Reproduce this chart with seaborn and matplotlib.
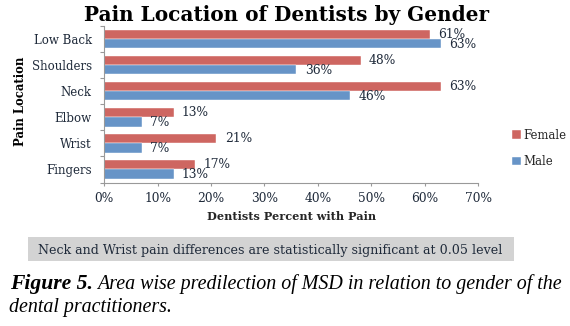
import matplotlib
matplotlib.use("Agg")
import matplotlib.pyplot as plt
import seaborn as sns
import pandas as pd
from matplotlib.ticker import FuncFormatter, FixedLocator, NullFormatter

categories = ["Low Back", "Shoulders", "Neck", "Elbow", "Wrist", "Fingers"]
female = [61, 48, 63, 13, 21, 17]
male = [63, 36, 46, 7, 7, 13]
genders = ["Female", "Male"]
xticks = [0, 10, 20, 30, 40, 50, 60, 70]

df = pd.DataFrame({
    "Location": categories * 2,
    "Percent": female + male,
    "Gender": ["Female"] * len(categories) + ["Male"] * len(categories),
})

sns.set_style("white")
plt.rcParams["font.family"] = ["DejaVu Serif", "Liberation Serif"]

W, H = 570, 326
fig = plt.figure(figsize=(5.7, 3.26), dpi=100)
ax_l, ax_r, ax_t, ax_b = 104.3, 478, 26, 182.5
ax = fig.add_axes([ax_l / W, 1 - ax_b / H, (ax_r - ax_l) / W, (ax_b - ax_t) / H])

colors = {"Female": "#CE6661", "Male": "#6794C7"}
sns.barplot(data=df, y="Location", x="Percent", hue="Gender", order=categories,
            hue_order=genders, palette=colors, orient="h", width=0.71, saturation=1,
            edgecolor="white", linewidth=0.3, ax=ax, legend=True)

for cont, dy in zip(ax.containers, [0.0, -0.6]):
    labels = [f"{v:.0f}%" for v in cont.datavalues]
    for bar, lab in zip(cont, labels):
        ax.annotate(lab, (bar.get_width(), bar.get_y() + bar.get_height() / 2),
                    xytext=(6, dy), textcoords="offset points", ha="left", va="center",
                    fontsize=8.8, color="#1F2A3A")

ax.set_xlim(0, 70)
ax.set_ylim(len(categories) - 0.5, -0.5)
ax.xaxis.set_major_locator(FixedLocator(xticks))
ax.xaxis.set_major_formatter(FuncFormatter(lambda v, p: f"{v:.0f}%"))
ax.tick_params(axis="x", direction="out", length=2.5, width=0.8, color="#999999",
               labelsize=8.8, pad=4, bottom=True, labelcolor="#1F2A3A")
ax.tick_params(axis="y", which="major", length=0, labelsize=8.5, pad=9,
               labelcolor="#1F2A3A")
ax.yaxis.set_minor_locator(FixedLocator([i - 0.5 for i in range(len(categories) + 1)]))
ax.yaxis.set_minor_formatter(NullFormatter())
ax.tick_params(axis="y", which="minor", direction="out", length=3, width=0.8,
               color="#999999", left=True)
for s in ["top", "right"]:
    ax.spines[s].set_visible(False)
for s in ["left", "bottom"]:
    ax.spines[s].set_color("#999999")
    ax.spines[s].set_linewidth(0.8)
ax.grid(False)

ax.set_xlabel("Dentists Percent with Pain", fontsize=8.1, fontweight="bold")
ax.xaxis.set_label_coords(0.5, -(216 - ax_b) / (ax_b - ax_t))
ax.xaxis.label.set_va("center")
ax.set_ylabel("")
fig.text(21 / W, 1 - 101 / H, "Pain Location", rotation=90, ha="center", va="center",
         fontsize=8.4, fontweight="bold", color="black")

handles, labs = ax.get_legend_handles_labels()
ax.legend(handles, labs, loc="center left", bbox_to_anchor=(512 / W, 1 - 148.5 / H),
          bbox_transform=fig.transFigure, frameon=False, fontsize=8.4,
          handlelength=0.75, handleheight=0.75, handletextpad=0.25, labelspacing=1.15,
          borderaxespad=0, borderpad=0)

fig.canvas.draw()
r = fig.canvas.get_renderer()


def fit(t, target):
    w = t.get_window_extent(r).width
    t.set_fontsize(t.get_fontsize() * target / w)


title = fig.text(286 / W, 1 - 15 / H, "Pain Location of Dentists by Gender",
                 ha="center", va="center", fontsize=14.5, fontweight="bold", color="black")
fit(title, 404)

# note box
fig.patches.append(matplotlib.patches.Rectangle((27.7 / W, 1 - 260.7 / H), (514 - 27.7) / W,
                                                 23.4 / H, transform=fig.transFigure,
                                                 facecolor="#D3D3D3", edgecolor="none",
                                                 zorder=0))
note = fig.text(38.3 / W, 1 - 250.5 / H,
                "Neck and Wrist pain differences are statistically significant at 0.05 level",
                ha="left", va="center", fontsize=9.5, color="#1F2A3A")
fit(note, 462)

# caption
cap = ["Liberation Serif", "DejaVu Serif"]
t1 = fig.text(10 / W, 1 - 289 / H, "Figure 5.", ha="left", va="baseline",
              fontsize=15.5, fontweight="bold", fontstyle="italic", color="black",
              family=cap)
fit(t1, 83)
t2 = fig.text(97 / W, 1 - 289 / H,
              "Area wise predilection of MSD in relation to gender of the",
              ha="left", va="baseline", fontsize=14.3, fontstyle="italic", color="black",
              family=cap)
fit(t2, 467)
fig.text(9 / W, 1 - 312 / H, "dental practitioners.", ha="left", va="baseline",
         fontsize=t2.get_fontsize(), fontstyle="italic", color="black", family=cap)

fig.savefig("out.png", dpi=100)
